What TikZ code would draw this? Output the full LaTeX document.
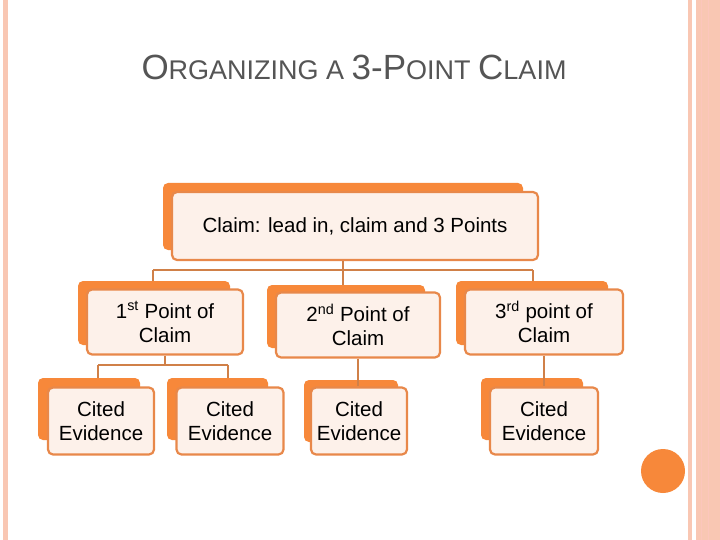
\documentclass[tikz,border=0pt]{standalone}
\usepackage{fontspec}
\setmainfont{Liberation Sans}
\definecolor{org}{HTML}{F7883A}
\definecolor{edge}{HTML}{E8884A}
\definecolor{pale}{HTML}{FDF1EA}
\definecolor{line}{HTML}{D08048}
\definecolor{pink}{HTML}{F9C7B3}
\definecolor{grey}{HTML}{555555}
\begin{document}
\begin{tikzpicture}[x=1pt,y=-1pt,
  back/.style={fill=org,rounded corners=5pt},
  front/.style={draw=edge,line width=2.2pt,fill=pale,rounded corners=5pt,
     font=\fontsize{20.5}{24}\selectfont,align=center,inner sep=0pt},
  conn/.style={draw=line,line width=2.4pt}]
\useasboundingbox (0,0) rectangle (720,540);
\fill[white] (0,0) rectangle (720,540);
% page borders
\fill[pink] (3,0) rectangle (8,540);
\fill[pink] (688,0) rectangle (692,540);
\fill[pink] (696,0) rectangle (720,540);
\draw[pink!80!red!60,line width=1pt] (701,0) -- (701,540);
\draw[pink!80!red!60,line width=1pt] (708,0) -- (708,540);
\fill[org] (663,471) circle (22);
% title
\node[text=grey,font=\fontsize{27}{32}\selectfont] (title) at (354,67)
  {{\fontsize{35}{40}\selectfont O}RGANIZING A {\fontsize{35}{40}\selectfont 3-P}OINT {\fontsize{35}{40}\selectfont C}LAIM};
% back boxes
\fill[back] (163,183) rectangle (523,250);
\fill[back] (78,281) rectangle (230,345);
\fill[back] (267,285) rectangle (425,348);
\fill[back] (456,281) rectangle (608,345);
\fill[back] (38,378) rectangle (140,440);
\fill[back] (167,378) rectangle (268,440);
\fill[back] (304,380) rectangle (398,442);
\fill[back] (481,378) rectangle (583,440);
% front boxes
\node[front,minimum width=366,minimum height=68] (claim) at (355,226) {Claim: lead in, claim and 3 Points};
\node[front,minimum width=156,minimum height=65] (p1) at (165,322) {1\textsuperscript{st} Point of\\Claim};
\node[front,minimum width=164,minimum height=65] (p2) at (358,325) {2\textsuperscript{nd} Point of\\Claim};
\node[front,minimum width=158,minimum height=65] (p3) at (544,322) {3\textsuperscript{rd} point of\\Claim};
\node[front,minimum width=106,minimum height=67] (e1) at (101,421) {Cited\\Evidence};
\node[front,minimum width=107,minimum height=67] (e2) at (230,421) {Cited\\Evidence};
\node[front,minimum width=96,minimum height=67] (e3) at (359,421) {Cited\\Evidence};
\node[front,minimum width=108,minimum height=67] (e4) at (544,421) {Cited\\Evidence};
% connectors
\coordinate (cb) at (343,270);
\coordinate (b1) at (165,365);
\draw[conn] (claim.south -| cb) -- (cb);
\draw[conn] (153,270) -- (533,270);
\draw[conn] (153,270) -- (153,281);
\draw[conn] (cb) -- (343,285);
\draw[conn] (533,270) -- (533,281);
\draw[conn] (p1.south) -- (b1);
\draw[conn] (98,365) -- (228,365);
\draw[conn] (98,365) -- (98,378);
\draw[conn] (228,365) -- (228,378);
\draw[conn] (p2.south) -- (p2.south |- e3.north);
\draw[conn] (p3.south) -- (p3.south |- e4.north);
\end{tikzpicture}
\end{document}
